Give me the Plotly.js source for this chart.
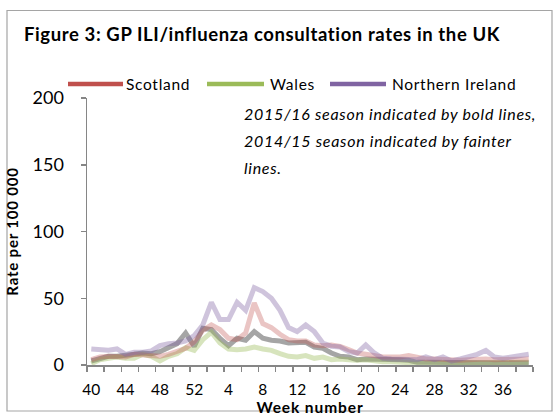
<!DOCTYPE html>
<html><head><meta charset="utf-8">
<script src="https://cdn.plot.ly/plotly-3.0.1.min.js"></script>
<style>
html,body{margin:0;padding:0;background:#fff}
#chart{width:560px;height:417px}
text.gtitle{letter-spacing:0.6px}
text.annotation-text{letter-spacing:0.7px}
text.ytitle{letter-spacing:0.8px}
text.xtitle{letter-spacing:0.9px}
</style>
</head><body><div id="chart"></div>
<script>
// Week numbers (2014/15 season: week 40 to week 39)
const weeks = [40,41,42,43,44,45,46,47,48,49,50,51,52,1,2,3,4,5,6,7,8,9,10,11,12,13,14,15,16,17,18,19,20,21,22,23,24,25,26,27,28,29,30,31,32,33,34,35,36,37,38,39];
const labelledWeeks = [40,44,48,52,4,8,12,16,20,24,28,32,36];

// 2014/15 season (fainter lines), rate per 100 000
const scotland1415 = [4,6,6.5,6.5,6,8,7.5,7,6.5,8,10,12.5,17.5,26,30,26.5,20,19,24,46.5,31,28,23,19,18,18,15,14.5,15,14,11.5,9,8,7,6,6,6,7,6,4.5,4.5,4,3.5,3.5,4,4.5,4.5,4,4,4,4.5,4.5];
const wales1415 = [1,4,5,6,5,5,8,6.5,3,6.5,8.5,13,11,19,24.5,16.5,12,11.5,12,13.5,12,11,8.5,6.5,6,7,5,6,4,4.5,4,3.5,4,3,2.5,2.5,2,1.5,1.5,1,1.5,1,1,1.5,1.5,1.5,1.5,1.5,2,2,2,2];
const ni1415 = [12,11.5,11,12,8,9.5,9.5,10.5,14.5,16,16.5,18,22,30,47,34,34,47,41,58,55,50,41,28,25,30,25,16.5,14,13.5,10,9,15,9,5,4.5,4.5,4,4,6,4,6,3,4.5,6.5,8,11,6,5,6,7,8];
const grey1415 = [3,5,6.5,6.5,7,8,9,8.5,10,13,16,24,14,27.5,26.5,20,14.5,20,18.5,25,20,18.5,18,16.5,16.5,17,13.5,12.5,9,6.5,6,4,4.5,4.5,4,4.5,4,3.5,2,2,2,1.5,1.5,1.5,1.5,1.5,1.5,1.5,1.5,1.5,1.5,1.5];

// Legend (2015/16 bold lines)
const legendNames = ['Scotland','Wales','Northern Ireland'];
const boldColors = ['rgb(192,80,77)','rgb(155,187,89)','rgb(128,100,162)'];
const faintColors = ['rgba(192,80,77,0.33)','rgba(155,187,89,0.40)','rgba(128,100,162,0.38)'];

const W = 560, H = 417, ML = 87, MR = 27, MT = 98, MB = 52;
const PW = W - ML - MR, PH = H - MT - MB;
const px = p => (p - ML) / PW;
const py = q => (H - MB - q) / PH;

const xIdx = weeks.map((w, i) => i);
const tickIdx = labelledWeeks.map(w => weeks.indexOf(w));

const traces = [
  {x: xIdx, y: grey1415, mode: 'lines', line: {color: 'rgba(110,110,110,0.62)', width: 5}, showlegend: false, hoverinfo: 'skip'},
  {x: xIdx, y: wales1415, mode: 'lines', line: {color: faintColors[1], width: 5}, showlegend: false},
  {x: xIdx, y: scotland1415, mode: 'lines', line: {color: faintColors[0], width: 5}, showlegend: false},
  {x: xIdx, y: ni1415, mode: 'lines', line: {color: faintColors[2], width: 5}, showlegend: false}
];

const axisGrey = 'rgb(134,134,134)';
const font = 'Lato, "Liberation Sans", sans-serif';

const legendX = [[68,123,124],[207,264,268],[330,386,390]];
const legendY = 84;
const shapes = [
  {type: 'rect', xref: 'paper', yref: 'paper', x0: px(7), x1: px(552), y0: py(411), y1: py(10.5), line: {color: 'rgb(165,165,165)', width: 1.2}, fillcolor: 'rgba(0,0,0,0)', layer: 'below'}
];
const annotations = [];
legendNames.forEach((n, i) => {
  shapes.push({type: 'line', xref: 'paper', yref: 'paper', x0: px(legendX[i][0]), x1: px(legendX[i][1]), y0: py(legendY), y1: py(legendY), line: {color: boldColors[i], width: 4.5}});
  annotations.push({xref: 'paper', yref: 'paper', x: px(legendX[i][2]), y: py(legendY), xanchor: 'left', yanchor: 'middle', text: n, showarrow: false, font: {family: font, size: 15.5, color: '#000'}});
});
const noteLines = ['2015/16 season indicated by bold lines,', '2014/15 season indicated by fainter', 'lines.'];
const noteY = [113, 140, 167];
noteLines.forEach((t, i) => {
  annotations.push({xref: 'paper', yref: 'paper', x: px(242), y: py(noteY[i]), xanchor: 'left', yanchor: 'middle', text: '<i>' + t + '</i>', showarrow: false, font: {family: font, size: 16, color: '#000'}});
});

const layout = {
  width: W, height: H,
  margin: {l: ML, r: MR, t: MT, b: MB, pad: 0},
  paper_bgcolor: '#fff', plot_bgcolor: '#fff',
  showlegend: false,
  font: {family: font, color: '#000'},
  title: {text: '<b>Figure 3: GP ILI/influenza consultation rates in the UK</b>', x: 24 / W, xanchor: 'left', xref: 'container', y: 1 - 35 / H, yanchor: 'middle', yref: 'container', font: {family: font, size: 18.5, color: '#000'}},
  xaxis: {
    range: [-0.5, 51.5], showgrid: false, zeroline: false,
    showline: true, linecolor: axisGrey, linewidth: 1.5,
    tickmode: 'array', tickvals: tickIdx, ticktext: labelledWeeks.map(String),
    ticks: '', ticklabelstandoff: 10,
    tickfont: {family: font, size: 15.5, color: '#000'},
    minor: {ticks: 'outside', ticklen: 5, tickwidth: 1.5, tickcolor: axisGrey, tick0: -0.5, dtick: 2, showgrid: false},
    title: {text: '<b>Week number</b>', standoff: 0, font: {family: font, size: 15.5, color: '#000'}}
  },
  yaxis: {
    range: [0, 200], showgrid: false, zeroline: false,
    showline: true, linecolor: axisGrey, linewidth: 1.5,
    tickvals: [0,50,100,150,200], ticks: 'outside', ticklen: 5, tickwidth: 1.5, tickcolor: axisGrey,
    ticklabelstandoff: 13,
    tickfont: {family: font, size: 18, color: '#000'},
    title: {text: '<b>Rate per 100 000</b>', standoff: 10, font: {family: font, size: 15, color: '#000'}}
  },
  shapes: shapes,
  annotations: annotations
};

Plotly.newPlot('chart', traces, layout, {displayModeBar: false, staticPlot: true});
</script></body></html>
